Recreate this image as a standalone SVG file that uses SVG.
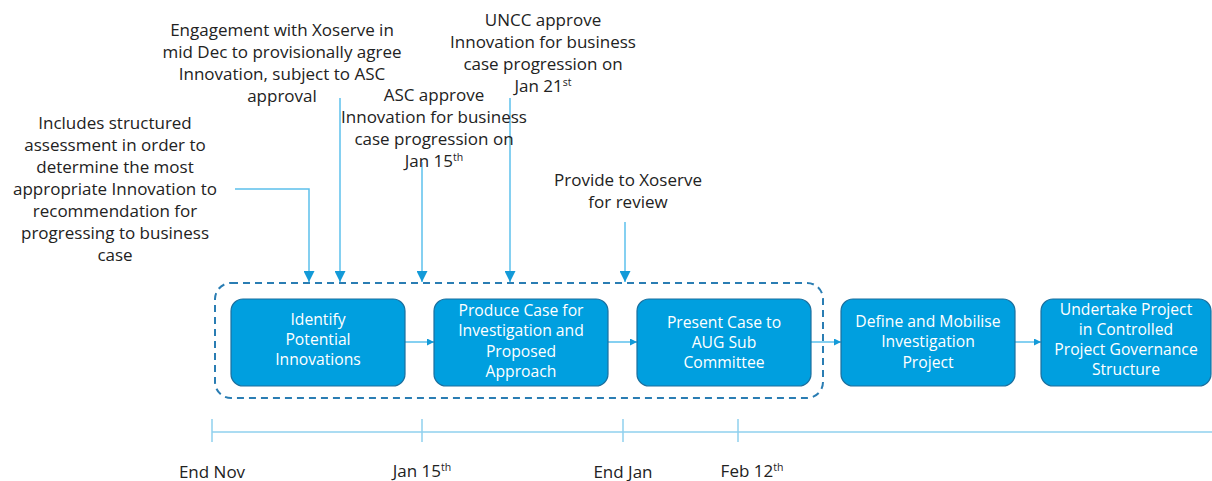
<svg xmlns="http://www.w3.org/2000/svg" width="1212" height="481" viewBox="0 0 1212 481">
<defs>
<marker id="ah" viewBox="0 0 10 10" refX="10" refY="5" markerWidth="7" markerHeight="7" markerUnits="userSpaceOnUse" orient="auto">
<path d="M0,0 L10,5 L0,10 z" fill="#139ad8"/>
</marker>
<marker id="ahs" viewBox="0 0 10 10" refX="10" refY="5" markerWidth="11" markerHeight="11" markerUnits="userSpaceOnUse" orient="auto">
<path d="M0,0 L10,5 L0,10 z" fill="#139ad8"/>
</marker>
<style>
.note{font-family:"Open Sans","Liberation Sans",sans-serif;font-size:17px;fill:#222;text-anchor:middle}
.btxt{font-family:"Open Sans","Liberation Sans",sans-serif;font-size:15.7px;fill:#fff;text-anchor:middle}
.box{fill:#009fdf;stroke:#1b6f9e;stroke-width:1.2}
.lnk{fill:none;stroke:#5cc0ec;stroke-width:1.5}
.call{fill:none;stroke:#5cc0ec;stroke-width:1.5;marker-end:url(#ahs)}
.tl{stroke:#8fd0ee;stroke-width:1.5}
.sup{font-size:10.5px}
</style>
</defs>

<g id="group-dashed">
<rect x="215" y="283" width="608" height="115" rx="16" fill="none" stroke="#2a7db3" stroke-width="2" stroke-dasharray="7,5"/>
</g>

<g id="connectors">
<line class="lnk" x1="405" y1="342" x2="434" y2="342" marker-end="url(#ah)"/>
<line class="lnk" x1="608" y1="342" x2="637" y2="342" marker-end="url(#ah)"/>
<line class="lnk" x1="811" y1="342" x2="841" y2="342" marker-end="url(#ah)"/>
<line class="lnk" x1="1015" y1="342" x2="1041" y2="342" marker-end="url(#ah)"/>
<polyline class="call" points="235,189 309,189 309,282"/>
<line class="call" x1="340" y1="98" x2="340" y2="282"/>
<line class="call" x1="422" y1="162" x2="422" y2="282"/>
<line class="call" x1="510" y1="98" x2="510" y2="282"/>
<line class="call" x1="625" y1="222" x2="625" y2="282"/>
</g>

<g id="node-identify">
<rect class="box" x="231" y="299" width="174" height="87" rx="12"/>
<text class="btxt" x="318" y="325">Identify</text>
<text class="btxt" x="318" y="345">Potential</text>
<text class="btxt" x="318" y="365">Innovations</text>
</g>
<g id="node-produce">
<rect class="box" x="434" y="299" width="174" height="87" rx="12"/>
<text class="btxt" x="521" y="316">Produce Case for</text>
<text class="btxt" x="521" y="336">Investigation and</text>
<text class="btxt" x="521" y="357">Proposed</text>
<text class="btxt" x="521" y="377">Approach</text>
</g>
<g id="node-present">
<rect class="box" x="637" y="299" width="174" height="87" rx="12"/>
<text class="btxt" x="724" y="328">Present Case to</text>
<text class="btxt" x="724" y="348">AUG Sub</text>
<text class="btxt" x="724" y="368">Committee</text>
</g>
<g id="node-define">
<rect class="box" x="841" y="299" width="174" height="87" rx="12"/>
<text class="btxt" x="928" y="327">Define and Mobilise</text>
<text class="btxt" x="928" y="347">Investigation</text>
<text class="btxt" x="928" y="368">Project</text>
</g>
<g id="node-undertake">
<rect class="box" x="1041" y="299" width="170" height="87" rx="12"/>
<text class="btxt" x="1126" y="315">Undertake Project</text>
<text class="btxt" x="1126" y="335">in Controlled</text>
<text class="btxt" x="1126" y="355">Project Governance</text>
<text class="btxt" x="1126" y="375">Structure</text>
</g>

<g id="note-includes">
<text class="note" x="115" y="129">Includes structured</text>
<text class="note" x="115" y="151">assessment in order to</text>
<text class="note" x="115" y="173">determine the most</text>
<text class="note" x="115" y="195">appropriate Innovation to</text>
<text class="note" x="115" y="217">recommendation for</text>
<text class="note" x="115" y="239">progressing to business</text>
<text class="note" x="115" y="261">case</text>
</g>
<g id="note-engagement">
<text class="note" x="282" y="36">Engagement with Xoserve in</text>
<text class="note" x="282" y="58">mid Dec to provisionally agree</text>
<text class="note" x="282" y="80">Innovation, subject to ASC</text>
<text class="note" x="282" y="102">approval</text>
</g>
<g id="note-asc">
<text class="note" x="434" y="101">ASC approve</text>
<text class="note" x="434" y="123">Innovation for business</text>
<text class="note" x="434" y="145">case progression on</text>
<text class="note" x="434" y="167">Jan 15<tspan class="sup" dy="-6">th</tspan></text>
</g>
<g id="note-uncc">
<text class="note" x="543" y="26">UNCC approve</text>
<text class="note" x="543" y="48">Innovation for business</text>
<text class="note" x="543" y="70">case progression on</text>
<text class="note" x="543" y="92">Jan 21<tspan class="sup" dy="-6">st</tspan></text>
</g>
<g id="note-provide">
<text class="note" x="628" y="186">Provide to Xoserve</text>
<text class="note" x="628" y="208">for review</text>
</g>

<g id="timeline">
<line class="tl" x1="212" y1="432" x2="1212" y2="432"/>
<line class="tl" x1="212" y1="419" x2="212" y2="442"/>
<line class="tl" x1="422" y1="419" x2="422" y2="442"/>
<line class="tl" x1="623" y1="419" x2="623" y2="442"/>
<line class="tl" x1="738" y1="419" x2="738" y2="442"/>
<text class="note" x="212" y="478">End Nov</text>
<text class="note" x="422" y="477">Jan 15<tspan class="sup" dy="-6">th</tspan></text>
<text class="note" x="623" y="478">End Jan</text>
<text class="note" x="752" y="477">Feb 12<tspan class="sup" dy="-6">th</tspan></text>
</g>
</svg>
